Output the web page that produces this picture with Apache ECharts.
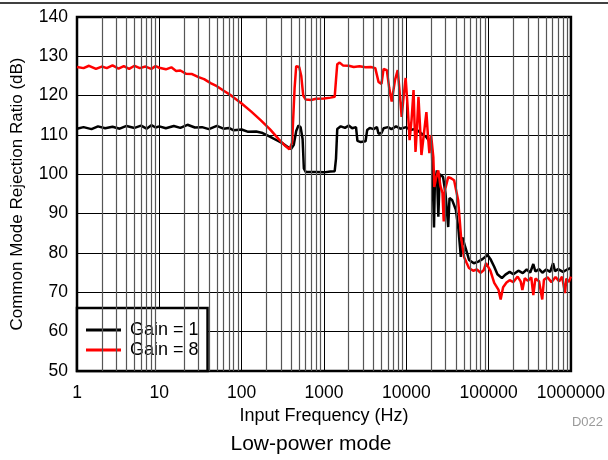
<!DOCTYPE html>
<html>
<head>
<meta charset="utf-8">
<script src="https://cdn.jsdelivr.net/npm/echarts@6/dist/echarts.min.js"></script>
<style>
html, body { margin: 0; padding: 0; background: #fff; }
#chart { width: 608px; height: 460px; }
</style>
</head>
<body>
<div id="chart"></div>
<script>
// Gain = 1 (black)
var gain1Freq = [1, 1.2, 1.5, 1.8, 2.2, 2.7, 3.3, 4, 5, 6, 7, 8, 9, 10, 12, 15, 18, 22, 27, 33, 40, 50, 60, 70, 80,
    100, 120, 150, 180, 220, 270, 320, 370, 400, 430, 460, 490, 520, 550, 570, 600, 800, 1000, 1200, 1350, 1400, 1450,
    1600, 1800, 2000, 2200, 2450, 2550, 2800, 3200, 3350, 3600, 4000, 4400, 4600, 5000, 5300, 6000, 6600, 7500, 8500,
    10000, 11000, 13000, 15000, 17500, 19000, 20500, 21300, 21700, 22200, 23500, 24500, 25500, 28000, 30000, 32300,
    33500, 36000, 40000, 43000, 46000, 48000, 53000, 58000, 66000, 75000, 85000, 97000, 105000, 117000, 128000, 145000,
    160000, 180000, 200000, 230000, 260000, 290000, 320000, 349000, 370000, 410000, 450000, 500000, 560000, 607000,
    640000, 700000, 800000, 900000, 1000000];
var gain1Db = [111.6, 112.0, 111.5, 112.2, 111.7, 112.1, 111.6, 112.3, 111.8, 112.4, 111.6, 112.5, 111.9, 112.2, 111.7,
    112.3, 111.8, 112.6, 111.9, 112.0, 111.5, 112.3, 111.6, 111.8, 111.2,
    111.4, 110.8, 110.9, 110.5, 109.6, 108.6, 107.8, 106.8, 106.5, 107.5, 111.0, 112.4, 112.0, 109.0, 101.5, 100.6,
    100.6, 100.5, 100.7, 100.8, 104.0, 111.5,
    112.2, 111.8, 112.4, 111.7, 112.0, 108.5, 108.2, 108.4, 111.3, 111.8, 111.5, 112.0, 110.3, 110.5, 111.7, 112.0,
    111.5, 112.2, 111.6,
    112.0, 111.3, 111.5, 110.5, 109.5, 108.5, 106.0, 93.0, 86.5, 97.0, 101.0, 89.2, 100.0, 99.3, 95.0, 86.6,
    94.0, 93.5, 91.0, 86.0, 79.0, 84.0, 81.0, 78.2, 77.4, 77.8, 78.5, 79.5, 78.5, 76.5, 74.6, 73.6,
    74.5, 75.2, 74.6, 75.5, 74.9, 75.8, 75.0, 77.2, 75.3, 75.9, 75.0, 75.8, 75.2, 77.4,
    75.4, 75.9, 75.2, 75.8, 76.2];

// Gain = 8 (red)
var gain8Freq = [1, 1.2, 1.4, 1.7, 2, 2.3, 2.7, 3.2, 3.7, 4.3, 5, 5.8, 6.8, 8, 9, 10, 12, 14, 16, 18, 21, 25, 30, 35,
    42, 50, 60, 75, 100, 130, 170, 220, 280, 340, 380, 410, 440, 460, 480, 500, 530, 560, 600, 700, 800, 1000, 1200,
    1350, 1400, 1450, 1550, 1700, 2000, 2300, 2700, 3200, 3700, 4200, 4400, 4600, 5000, 5300, 5800, 6200, 6650, 7300,
    7870, 8300, 8790, 9300, 9820, 10400, 10970, 11600, 12250, 12600, 12950, 13500, 14060, 14700, 15280, 16300, 17550,
    18300, 19070, 20000, 21300, 21900, 23000, 24460, 26000, 27500, 28500, 29500, 32300, 35000, 38100, 42600, 46300,
    50300, 54000, 57700, 65000, 72000, 80000, 87000, 93000, 97600, 105000, 117000, 132000, 140000, 150000, 165000,
    180000, 200000, 225000, 245000, 257000, 275000, 300000, 330000, 349000, 370000, 410000, 448000, 470000, 520000,
    580000, 650000, 720000, 780000, 847000, 880000, 940000, 1000000];
var gain8Db = [127.3, 127.0, 127.6, 126.8, 127.4, 127.0, 127.7, 126.9, 127.5, 126.8, 127.6, 127.0, 127.4, 126.8, 127.5,
    127.1, 126.7, 127.2, 126.3, 126.4, 125.6, 125.5, 124.7, 124.2,
    123.2, 122.4, 121.3, 120.0, 118.0, 116.0, 113.8, 111.5, 109.0, 107.2, 106.4, 108.0, 122.0, 127.5, 127.8, 127.3,
    125.0, 120.0, 119.0, 118.9, 119.2, 119.3, 119.5,
    119.7, 124.0, 128.0, 128.4, 127.7, 127.6, 127.3, 127.5, 127.2, 127.3, 127.0, 127.0, 123.5, 123.0, 126.8, 126.5,
    122.0, 118.5, 124.0,
    126.5, 121.0, 114.6, 120.0, 124.5, 117.0, 108.7, 114.0, 121.4, 113.0, 105.7, 112.0, 119.7, 112.0, 104.9, 110.0,
    115.8, 110.0, 105.4, 110.0, 104.4, 96.8, 99.0, 101.0, 97.0, 95.3, 88.0, 96.0, 99.3, 99.0, 98.5, 93.5, 84.0,
    79.0, 77.5, 76.2, 75.5, 75.8, 75.0, 75.6, 77.4, 77.4, 75.5, 72.4, 70.6, 68.2, 71.3, 72.5,
    73.1, 72.6, 74.0, 72.8, 70.6, 73.6, 72.9, 73.8, 69.3, 73.5, 72.8, 68.2, 73.2, 73.8,
    72.6, 73.9, 72.8, 74.0, 69.8, 73.5, 72.6, 74.0];

var xTickLabels = ['1', '10', '100', '1000', '10000', '100000', '1000000'];
var decades = [1, 10, 100, 1000, 10000, 100000];
var minorSteps = [2, 3, 4, 5, 6, 7, 8, 9];

function zip(xs, ys) {
    var out = [];
    for (var i = 0; i < xs.length; i++) out.push([xs[i], ys[i]]);
    return out;
}

var minorLines = [];
decades.forEach(function (d) {
    minorSteps.forEach(function (m) { minorLines.push({ xAxis: d * m }); });
});

var font = 'Liberation Sans, Arial, Helvetica, sans-serif';
var chart = echarts.init(document.getElementById('chart'));
chart.setOption({
    animation: false,
    textStyle: { fontFamily: font },
    grid: {
        left: 77, top: 17, right: 32, bottom: 89,
        show: true, borderColor: '#000', borderWidth: 2.5, backgroundColor: 'transparent'
    },
    legend: {
        data: ['Gain = 1', 'Gain = 8'],
        orient: 'vertical',
        left: 77, top: 308,
        icon: 'rect',
        backgroundColor: '#fff',
        borderColor: '#000',
        borderWidth: 2.5,
        padding: [12, 9, 11, 9],
        itemGap: 0,
        itemWidth: 35,
        itemHeight: 3,
        textStyle: { fontSize: 18, lineHeight: 20, padding: [0, 0, 0, 4], color: '#000', fontFamily: font }
    },
    xAxis: {
        type: 'log',
        logBase: 10,
        min: 1,
        max: 1000000,
        splitNumber: 6,
        name: 'Input Frequency (Hz)',
        nameLocation: 'middle',
        nameGap: 32,
        nameTextStyle: { fontSize: 18, color: '#000', fontFamily: font },
        axisLine: { show: false },
        axisTick: { show: false },
        axisLabel: {
            fontSize: 17.5, color: '#000', margin: 13, fontFamily: font,
            formatter: function (v) {
                var i = Math.round(Math.log10(v));
                return xTickLabels[i] || '';
            }
        },
        splitLine: { show: true, lineStyle: { color: '#000', width: 1 } }
    },
    yAxis: {
        type: 'value',
        min: 50,
        max: 140,
        interval: 10,
        name: 'Common Mode Rejection Ratio (dB)',
        nameLocation: 'middle',
        nameGap: 51,
        nameTextStyle: { fontSize: 17, color: '#000', fontFamily: font },
        axisLine: { show: false },
        axisTick: { show: false },
        axisLabel: { fontSize: 17.5, color: '#000', margin: 9, fontFamily: font },
        splitLine: { show: true, lineStyle: { color: '#000', width: 1 } }
    },
    series: [
        {
            name: 'minor grid',
            type: 'line',
            data: [],
            silent: true,
            z: 1,
            markLine: {
                silent: true,
                symbol: 'none',
                animation: false,
                label: { show: false },
                lineStyle: { color: '#555', width: 1.2, type: 'solid' },
                data: minorLines
            }
        },
        {
            name: 'Gain = 1',
            type: 'line',
            symbol: 'none',
            z: 3,
            color: '#000',
            lineStyle: { color: '#000', width: 2.5 },
            data: zip(gain1Freq, gain1Db)
        },
        {
            name: 'Gain = 8',
            type: 'line',
            symbol: 'none',
            z: 4,
            color: '#ff0000',
            lineStyle: { color: '#ff0000', width: 2.5 },
            data: zip(gain8Freq, gain8Db)
        }
    ],
    graphic: [
        { type: 'line', shape: { x1: 0, y1: 3, x2: 608, y2: 3 }, style: { stroke: '#000', lineWidth: 1.5 } },
        {
            type: 'text', x: 311, y: 444,
            style: { text: 'Low-power mode', fontSize: 21, fill: '#000', align: 'center', verticalAlign: 'middle', fontFamily: font }
        },
        {
            type: 'text', x: 603, y: 422,
            style: { text: 'D022', fontSize: 13, fill: '#9a9a9a', align: 'right', verticalAlign: 'middle', fontFamily: font }
        }
    ]
});
</script>
</body>
</html>
